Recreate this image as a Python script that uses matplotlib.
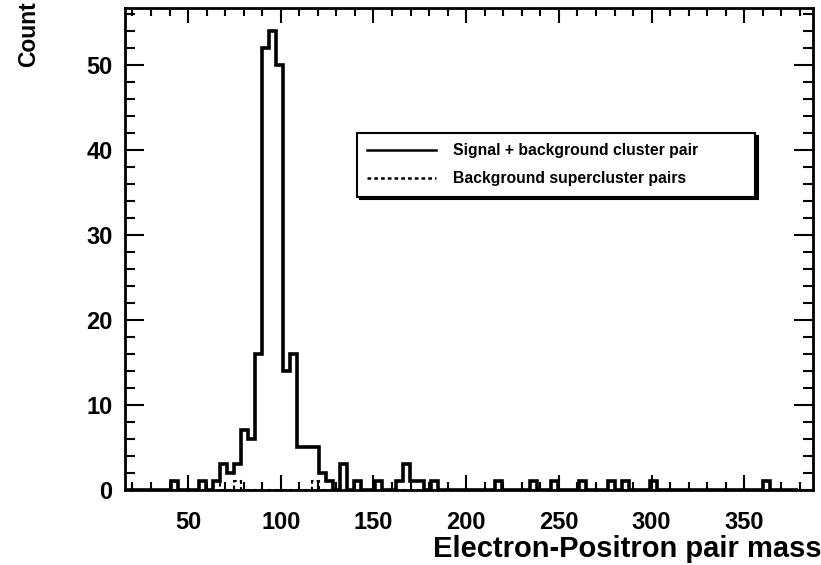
import numpy as np
import matplotlib.pyplot as plt
from matplotlib.lines import Line2D
from matplotlib.ticker import MultipleLocator

plt.rcParams['font.family'] = ['Liberation Sans', 'DejaVu Sans']

# binning of the mass histogram
bin_start = 14.0
bin_width = 3.8

# signal + background counts per bin
signal_counts = [
    0, 0, 0, 0, 0, 0, 0, 1, 0, 0,
    0, 1, 0, 1, 3, 2, 3, 7, 6, 16,
    52, 54, 50, 14, 16, 5, 5, 5, 2, 1,
    0, 3, 0, 1, 0, 0, 1, 0, 0, 1,
    3, 1, 1, 0, 1, 0, 0, 0, 0, 0,
    0, 0, 0, 1, 0, 0, 0, 0, 1, 0,
    0, 1, 0, 0, 0, 1, 0, 0, 0, 1,
    0, 1, 0, 0, 0, 1, 0, 0, 0, 0,
    0, 0, 0, 0, 0, 0, 0, 0, 0, 0,
    0, 1, 0, 0, 0, 0,
]
# background supercluster pairs
background_counts = [0] * len(signal_counts)
for k in (13, 16, 27):
    background_counts[k] = 1

edges = bin_start + bin_width * np.arange(len(signal_counts) + 1)

fig = plt.figure(figsize=(8.21, 5.65), dpi=100)
ax = fig.add_axes([125 / 821, 1 - 490 / 565, (813 - 125) / 821, (490 - 8) / 565])

ax.stairs(background_counts, edges, color='black', linewidth=1.5,
          linestyle=(0, (2, 1.5)))
ax.stairs(signal_counts, edges, color='black', linewidth=2.6)

ax.set_xlim(16, 387)
ax.set_ylim(0, 56.7)

ax.xaxis.set_major_locator(MultipleLocator(50))
ax.xaxis.set_minor_locator(MultipleLocator(10))
ax.yaxis.set_major_locator(MultipleLocator(10))
ax.yaxis.set_minor_locator(MultipleLocator(2))
ax.tick_params(which='both', direction='in', top=True, right=True, width=1.5)
ax.tick_params(axis='x', which='major', length=11, pad=15)
ax.tick_params(axis='x', which='minor', length=5.5)
ax.tick_params(axis='y', which='major', length=14, pad=9)
ax.tick_params(axis='y', which='minor', length=7)
for lab in ax.get_xticklabels() + ax.get_yticklabels():
    lab.set_fontsize(17)
    lab.set_fontweight('bold')
for sp in ax.spines.values():
    sp.set_linewidth(2)

ax.set_xlabel('Electron-Positron pair mass', fontsize=21, fontweight='bold',
              loc='right')
ax.xaxis.set_label_coords(1.012, -0.093)
ax.set_ylabel('Count', fontsize=16.5, fontweight='bold', loc='top')
ax.yaxis.set_label_coords(-0.123, 1.013)

handles = [Line2D([], [], color='black', linewidth=1.8),
           Line2D([], [], color='black', linewidth=1.8, linestyle=(0, (1.5, 1.2)))]
labels = ['Signal + background cluster pair', 'Background supercluster pairs']
leg = ax.legend(handles, labels, loc='upper left',
                bbox_to_anchor=(0.337, 0.612, 0.5785, 0.129), mode='expand',
                borderaxespad=0,
                prop={'size': 11.3, 'weight': 'bold'}, handlelength=4.4,
                handletextpad=1.1, labelspacing=0.85, borderpad=0.65,
                fancybox=False, framealpha=1, edgecolor='black',
                shadow={'facecolor': 'black', 'edgecolor': 'black', 'alpha': 1})
leg.get_frame().set_linewidth(1.5)

fig.savefig('out.png', dpi=100)
